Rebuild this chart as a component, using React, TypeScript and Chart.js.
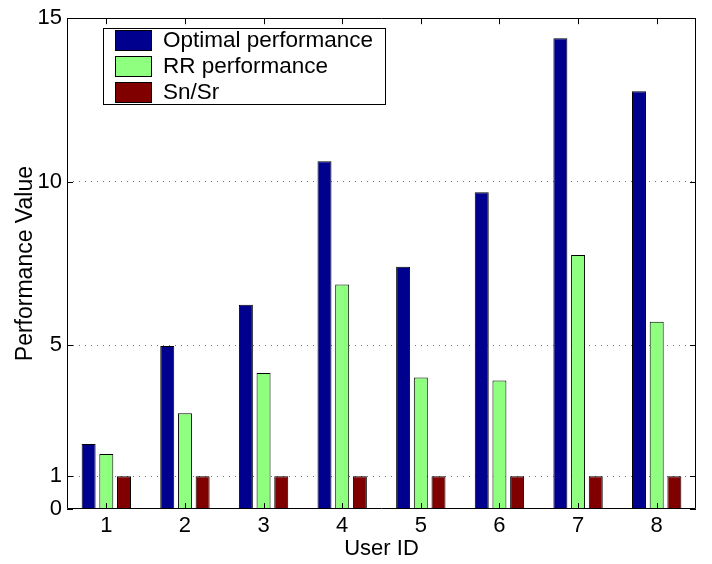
import React, { useEffect, useRef } from "react";
import { Chart, registerables } from "chart.js";

Chart.register(...registerables);

const categories = ["1", "2", "3", "4", "5", "6", "7", "8"];
const optimalValues = [1.99, 4.98, 6.24, 10.63, 7.4, 9.68, 14.39, 12.77];
const rrValues = [1.68, 2.93, 4.16, 6.86, 4.02, 3.93, 7.76, 5.72];
const snsrValues = [1, 1, 1, 1, 1, 1, 1, 1];
const seriesNames = ["Optimal performance", "RR performance", "Sn/Sr"];
const yTickValues = [0, 1, 5, 10, 15];
const gridValues = [1, 5, 10];

const FONT = "'Liberation Sans', Arial, Helvetica, sans-serif";
const COLORS = ["rgb(0,0,143)", "rgb(143,255,127)", "rgb(128,0,0)"];

const framePlugin = {
  id: "frame",
  afterDraw(chart: any) {
    const ctx = chart.ctx;
    const { left, right, top, bottom } = chart.chartArea;
    const xs = chart.scales.x;
    const ys = chart.scales.y;
    ctx.save();
    ctx.strokeStyle = "#000";
    ctx.lineWidth = 1;
    ctx.beginPath();
    ctx.rect(Math.round(left) + 0.5, Math.round(top) + 0.5, Math.round(right - left) - 1, Math.round(bottom - top) - 1);
    ctx.stroke();
    const tl = 6;
    ctx.beginPath();
    yTickValues.forEach((v) => {
      const y = Math.round(ys.getPixelForValue(v)) + 0.5;
      ctx.moveTo(left, y);
      ctx.lineTo(left + tl, y);
      ctx.moveTo(right, y);
      ctx.lineTo(right - tl, y);
    });
    categories.forEach((_, i) => {
      const x = Math.round(xs.getPixelForValue(i)) + 0.5;
      ctx.moveTo(x, top);
      ctx.lineTo(x, top + tl);
      ctx.moveTo(x, bottom);
      ctx.lineTo(x, bottom - tl);
    });
    ctx.stroke();

    // legend
    const lx = 103.5, ly = 28.5, lw = 282, lh = 76;
    ctx.fillStyle = "#fff";
    ctx.fillRect(lx, ly, lw, lh);
    ctx.strokeRect(lx, ly, lw, lh);
    ctx.font = `22.5px ${FONT}`;
    ctx.textBaseline = "middle";
    ctx.textAlign = "left";
    chart.data.datasets.forEach((ds: any, i: number) => {
      const sy = 30.5 + i * 26;
      ctx.fillStyle = ds.backgroundColor;
      ctx.fillRect(115.5, sy, 36, 20);
      ctx.strokeStyle = "#000";
      ctx.strokeRect(115.5, sy, 36, 20);
      ctx.fillStyle = "#000";
      ctx.fillText(ds.label, 163, sy + 10);
    });
    ctx.restore();
  },
};

export default function App() {
  const ref = useRef<HTMLCanvasElement | null>(null);
  useEffect(() => {
    if (!ref.current) return;
    const chart = new Chart(ref.current, {
      type: "bar",
      data: {
        labels: categories,
        datasets: [optimalValues, rrValues, snsrValues].map((d, i) => ({
          label: seriesNames[i],
          data: d,
          backgroundColor: COLORS[i],
          borderColor: "#000",
          borderWidth: 1,
          categoryPercentage: 0.675,
          barPercentage: 0.79,
        })),
      },
      options: {
        animation: false,
        responsive: false,
        layout: { padding: { left: 0, right: 16, top: 14, bottom: 0 } },
        plugins: { legend: { display: false }, tooltip: { enabled: false } },
        scales: {
          x: {
            grid: { display: false, drawTicks: false },
            border: { display: false },
            ticks: { color: "#000", font: { family: FONT, size: 22 }, padding: 4, maxRotation: 0 },
            title: {
              display: true,
              text: "User ID",
              color: "#000",
              font: { family: FONT, size: 22 },
              padding: { top: 0, bottom: 2 },
            },
            afterFit: (s: any) => {
              s.height = 55;
            },
          },
          y: {
            min: 0,
            max: 15,
            afterBuildTicks: (s: any) => {
              s.ticks = yTickValues.map((v) => ({ value: v }));
            },
            grid: {
              drawTicks: false,
              color: (c: any) => (gridValues.includes(c.tick?.value) ? "rgba(0,0,0,0.55)" : "rgba(0,0,0,0)"),
              lineWidth: 1,
            },
            border: { display: false, dash: [1, 5] },
            ticks: { color: "#000", font: { family: FONT, size: 22 }, padding: 5 },
            title: {
              display: true,
              text: "Performance Value",
              color: "#000",
              font: { family: FONT, size: 23 },
              padding: { top: 12, bottom: 0 },
            },
            afterFit: (s: any) => {
              s.width = 67;
            },
          },
        },
      },
      plugins: [framePlugin],
    });
    return () => chart.destroy();
  }, []);
  return (
    <div style={{ position: "fixed", left: 0, top: 0, width: 712, height: 564, background: "#fff" }}>
      <canvas ref={ref} width={712} height={564} style={{ display: "block" }} />
    </div>
  );
}
